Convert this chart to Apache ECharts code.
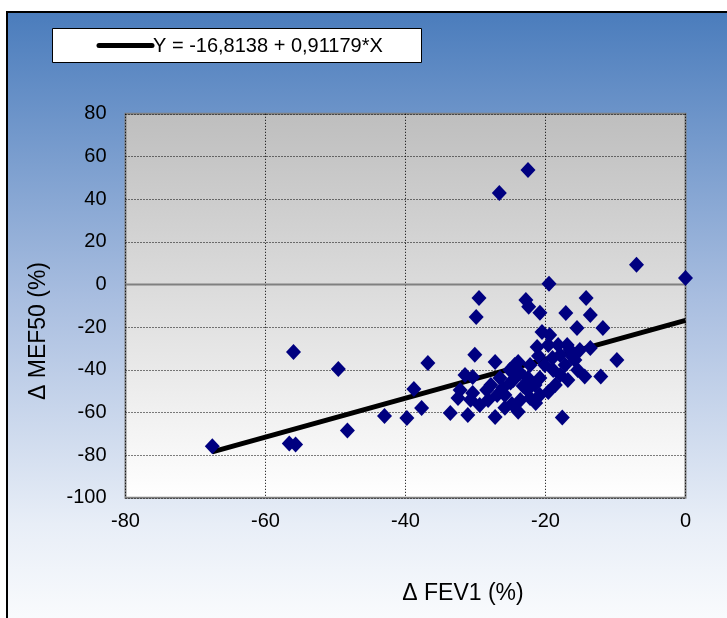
<!DOCTYPE html>
<html>
<head>
<meta charset="utf-8">
<script src="https://cdn.jsdelivr.net/npm/echarts@6/dist/echarts.min.js"></script>
<style>
  html, body { margin: 0; padding: 0; background: #ffffff; }
  #chart { width: 727px; height: 618px; }
</style>
</head>
<body>
<div id="chart"></div>
<script>
// Change in FEV1 (%) per subject
const fev1 = [
  -67.6, -56.6, -55.7, -56.0, -49.6, -48.3, -43.0, -39.8, -38.8, -37.7,
  -36.8, -33.6, -22.5, -26.6, -7.0, 0.0, -19.5, -29.5, -29.9, -22.8,
  -22.4, -20.8, -17.1, -14.2, -13.6, -15.5, -11.8, -20.5, -19.4, -30.1,
  -27.2, -21.2, -16.9, -16.1, -13.6, -9.8, -14.4, -12.1, -17.6, -31.5,
  -30.4, -31.1, -27.2, -23.9, -25.8, -32.5, -32.2, -30.4, -28.4, -23.9,
  -22.2, -26.5, -27.8, -26.9, -25.8, -24.6, -23.6, -22.6, -22.2, -21.5,
  -20.8, -20.1, -18.9, -18.6, -20.8, -21.4, -23.6, -24.8, -23.2, -18.2,
  -17.9, -16.5, -15.8, -17.9, -16.8, -15.4, -15.1, -17.2, -19.6, -22.5,
  -25.1, -26.1, -28.2, -29.4, -24.4, -19.6, -30.7, -19.0, -21.0, -25.0
];

// Change in MEF50 (%) per subject
const mef50 = [
  -75.8, -74.5, -75.0, -31.6, -39.6, -68.5, -61.7, -62.6, -49.0, -57.9,
  -36.8, -60.3, 53.7, 42.9, 9.2, 3.0, 0.3, -6.3, -15.2, -7.3,
  -10.5, -13.2, -13.4, -6.3, -14.3, -20.4, -20.4, -22.3, -23.7, -33.0,
  -36.3, -29.3, -28.4, -34.0, -29.8, -35.4, -43.1, -43.1, -62.4, -42.4,
  -43.4, -61.2, -62.1, -59.7, -57.8, -53.2, -49.5, -50.9, -49.5, -36.3,
  -37.7, -43.8, -47.1, -51.8, -51.8, -44.8, -41.5, -49.5, -53.2, -47.1,
  -43.8, -37.7, -40.1, -47.1, -51.8, -55.6, -54.1, -56.0, -47.6, -28.4,
  -33.1, -30.7, -35.4, -42.4, -44.8, -40.1, -30.7, -37.7, -50.4, -43.8,
  -40.1, -48.5, -54.1, -56.5, -37.7, -28.4, -54.0, -34.5, -33.5, -46.0
];

// Fitted regression line Y = a + b*X
const intercept = -16.8138;
const slope = 0.91179;
const legendText = 'Y = -16,8138 + 0,91179*X';

// Axis ranges and tick labels
const xTicks = [-80, -60, -40, -20, 0];
const yTicks = [-100, -80, -60, -40, -20, 0, 20, 40, 60, 80];

const xName = '\u0394 FEV1 (%)';
const yName = '\u0394 MEF50 (%)';

const points = fev1.map((x, i) => [x, mef50[i]]);
const xLo = Math.min(...fev1), xHi = Math.max(...fev1);
const fitLine = [[xLo, intercept + slope * xLo], [xHi, intercept + slope * xHi]];

const FONT = '"Liberation Sans", Arial, sans-serif';

const chart = echarts.init(document.getElementById('chart'), null, { renderer: 'canvas' });

chart.setOption({
  animation: false,
  backgroundColor: '#ffffff',
  graphic: [
    {
      type: 'rect', z: -10, silent: true,
      shape: { x: 7, y: 12, width: 740, height: 640 },
      style: {
        fill: new echarts.graphic.LinearGradient(0, 0, 0, 1, [
          { offset: 0, color: '#4a7cbc' },
          { offset: 0.45, color: '#a9bee0' },
          { offset: 0.8, color: '#e8eef7' },
          { offset: 1, color: '#ffffff' }
        ]),
        stroke: '#000000', lineWidth: 2
      }
    },
    {
      type: 'rect', z: 10, silent: true,
      shape: { x: 52.5, y: 28.5, width: 369, height: 34 },
      style: { fill: '#ffffff', stroke: '#000000', lineWidth: 1 }
    },
    {
      type: 'line', z: 11, silent: true,
      shape: { x1: 99, y1: 45.5, x2: 152, y2: 45.5 },
      style: { stroke: '#000000', lineWidth: 5, lineCap: 'round' }
    },
    {
      type: 'text', z: 11, silent: true,
      style: {
        x: 153, y: 46, text: legendText, fill: '#000000',
        font: '20px ' + FONT, textVerticalAlign: 'middle', textAlign: 'left'
      }
    },
    {
      type: 'text', z: 11, silent: true,
      style: {
        x: 463, y: 594, text: xName, fill: '#000000',
        font: '23px ' + FONT, textAlign: 'center', textVerticalAlign: 'middle'
      }
    },
    {
      type: 'text', z: 11, silent: true,
      x: 39, y: 331, rotation: Math.PI / 2,
      style: {
        x: 0, y: 0, text: yName, fill: '#000000',
        font: '23px ' + FONT, textAlign: 'center', textVerticalAlign: 'middle'
      }
    }
  ],
  grid: {
    left: 125.5, top: 113.8, width: 560, height: 384,
    show: true,
    backgroundColor: new echarts.graphic.LinearGradient(0, 0, 0, 1, [
      { offset: 0, color: '#bebebe' },
      { offset: 1, color: '#ffffff' }
    ]),
    borderColor: '#808080', borderWidth: 2
  },
  xAxis: {
    type: 'value',
    min: xTicks[0], max: xTicks[xTicks.length - 1], interval: 20,
    axisLine: { show: false },
    axisTick: { show: false },
    axisLabel: { color: '#000', fontSize: 20, fontFamily: FONT, margin: 14 },
    splitLine: { show: true, lineStyle: { color: '#000', width: 1, type: [1, 2] } }
  },
  yAxis: {
    type: 'value',
    min: yTicks[0], max: yTicks[yTicks.length - 1], interval: 20,
    axisLine: { show: false },
    axisTick: { show: false },
    axisLabel: { color: '#000', fontSize: 20, fontFamily: FONT, margin: 19 },
    splitLine: { show: true, lineStyle: { color: '#000', width: 1, type: [1, 2] } }
  },
  series: [
    {
      // horizontal axis line crossing at zero
      type: 'line', z: 1, silent: true, symbol: 'none',
      data: [[xTicks[0], 0], [xTicks[xTicks.length - 1], 0]],
      lineStyle: { color: '#808080', width: 2 }
    },
    {
      type: 'line', z: 2, silent: true, symbol: 'none',
      data: fitLine,
      lineStyle: { color: '#000000', width: 5 }
    },
    {
      type: 'scatter', z: 3,
      symbol: 'diamond', symbolSize: [15, 16],
      itemStyle: { color: '#000080', opacity: 1 },
      data: points
    }
  ]
});
</script>
</body>
</html>
